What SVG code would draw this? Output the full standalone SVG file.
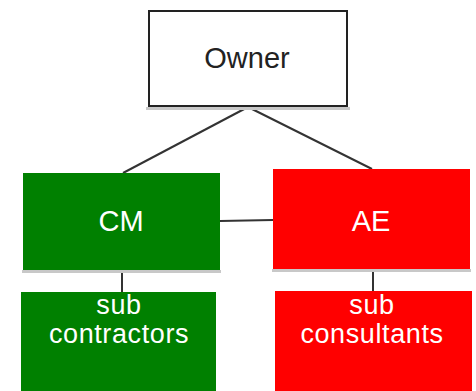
<svg xmlns="http://www.w3.org/2000/svg" width="476" height="391" viewBox="0 0 476 391">
<style>
.t{font-family:"Liberation Sans",Arial,sans-serif;font-size:29px;text-anchor:middle}
.s{font-size:27px;letter-spacing:0.6px}
.w{fill:#ffffff}
.k{fill:#222222}
.g{fill:#008000}
.r{fill:#ff0000}
.c{stroke:#333333;stroke-width:2;fill:none}
.sh{fill:#c8c8c8}
</style>
<rect width="476" height="391" fill="#ffffff"/>
<g id="connectors">
<line class="c" x1="248" y1="107" x2="123" y2="173"/>
<line class="c" x1="248" y1="107" x2="372" y2="169"/>
<line class="c" x1="220" y1="221" x2="273" y2="220"/>
<line class="c" x1="122" y1="270" x2="122" y2="292"/>
<line class="c" x1="373" y1="269" x2="373" y2="291"/>
</g>
<g id="owner">
<rect class="sh" x="146" y="107" width="204" height="3"/>
<rect x="149" y="11" width="198" height="95" fill="#ffffff" stroke="#222222" stroke-width="2"/>
<text class="t k" x="247" y="68">Owner</text>
</g>
<g id="cm">
<rect class="sh" x="22" y="270" width="199" height="3"/>
<rect class="g" x="23" y="173" width="197" height="97"/>
<text class="t w" x="121" y="231">CM</text>
</g>
<g id="ae">
<rect class="sh" x="272" y="269" width="199" height="3"/>
<rect class="r" x="273" y="169" width="197" height="100"/>
<text class="t w" x="371" y="231">AE</text>
</g>
<g id="subcontractors">
<rect class="g" x="21" y="292" width="195" height="99"/>
<text class="t s w" x="119" y="314">sub</text>
<text class="t s w" x="119" y="343">contractors</text>
</g>
<g id="subconsultants">
<rect class="r" x="275" y="291" width="197" height="100"/>
<text class="t s w" x="372" y="314">sub</text>
<text class="t s w" x="372" y="343">consultants</text>
</g>
</svg>
